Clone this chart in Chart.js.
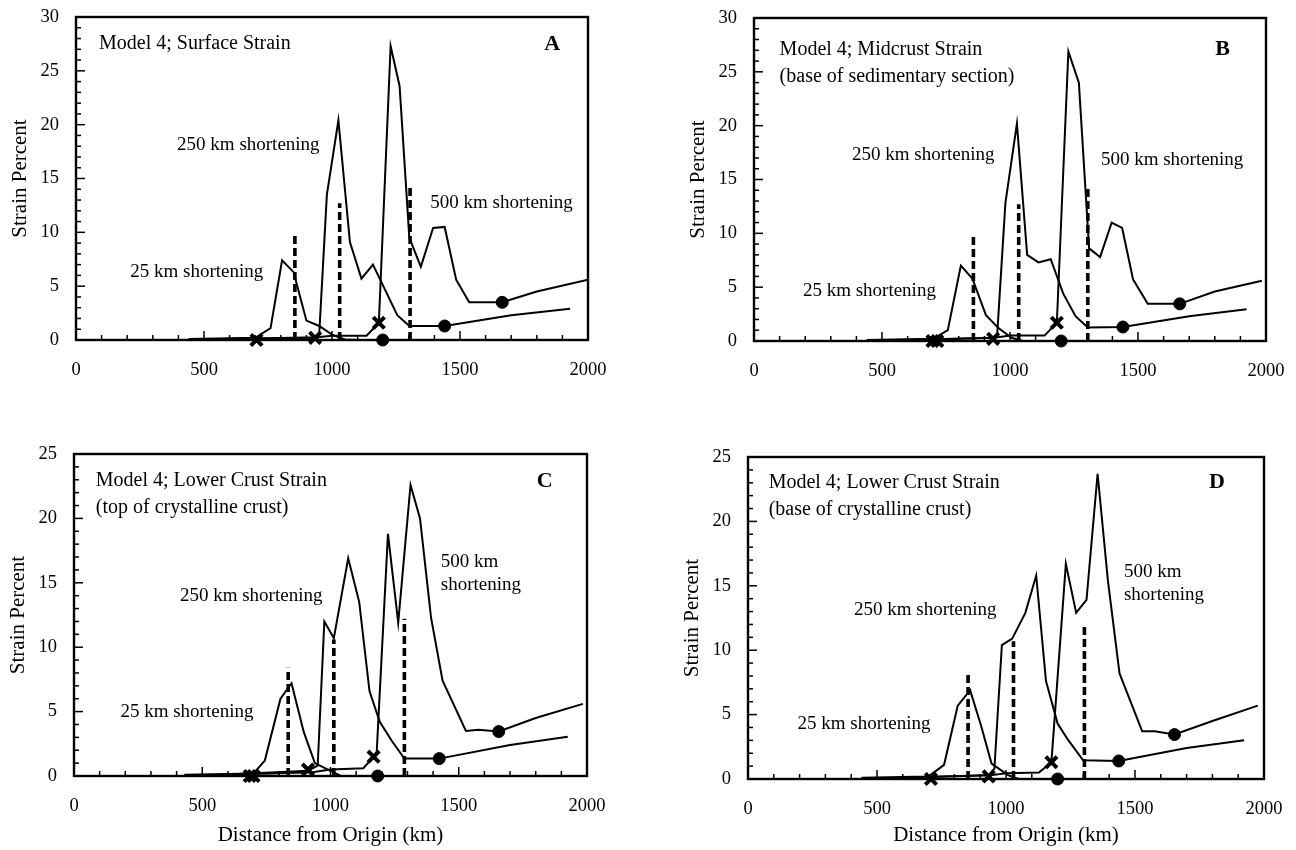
<!DOCTYPE html>
<html>
<head>
<meta charset="utf-8">
<script src="https://cdn.jsdelivr.net/npm/chart.js@4.4.1/dist/chart.umd.min.js"></script>
<style>
  body { margin: 0; background: #fff; width: 1296px; height: 850px; position: relative; overflow: hidden; }
  canvas { position: absolute; }
</style>
</head>
<body>
<canvas id="cA" width="620" height="420" style="left:0;top:0"></canvas>
<canvas id="cB" width="618" height="420" style="left:678px;top:0"></canvas>
<canvas id="cC" width="620" height="430" style="left:0;top:420px"></canvas>
<canvas id="cD" width="624" height="430" style="left:672px;top:420px"></canvas>
<script>
// tick values
const xTickVals = [0, 500, 1000, 1500, 2000];
const yTickVals30 = [0, 5, 10, 15, 20, 25, 30];
const yTickVals25 = [0, 5, 10, 15, 20, 25];

// Panel A - surface strain
const a25 = [[440,0.1],[700,0.2],[760,1.1],[805,7.4],[850,6.3],[900,1.8],[950,1.3],[1000,0.5],[1050,0.05],[1100,0],[1960,0]];
const a250 = [[580,0.1],[930,0.2],[950,0.5],[980,13.5],[1025,20.4],[1070,9.1],[1115,5.7],[1160,7.0],[1255,2.3],[1302,1.3],[1440,1.3],[1700,2.3],[1930,2.9]];
const a500 = [[700,0.15],[940,0.25],[1000,0.4],[1135,0.4],[1183,1.6],[1229,27.3],[1264,23.6],[1302,9.5],[1347,6.8],[1395,10.4],[1440,10.5],[1485,5.6],[1536,3.5],[1665,3.5],[1800,4.5],[2000,5.6]];
const aDashX = [855, 1030, 1305];
const aDashTop = [9.8, 12.7, 14.4];
const aCross = [[705,0],[934,0.2],[1183,1.6]];
const aDot = [[1198,0],[1440,1.3],[1665,3.5]];

// Panel B - midcrust strain
const b25 = [[440,0.1],[700,0.2],[757,1.0],[808,7.0],[853,5.8],[906,2.4],[955,1.2],[1006,0.3],[1050,0],[1960,0]];
const b250 = [[580,0.1],[934,0.3],[950,0.6],[982,12.8],[1027,20.2],[1067,8.0],[1111,7.3],[1159,7.6],[1208,4.4],[1256,2.3],[1304,1.25],[1441,1.3],[1700,2.3],[1924,2.95]];
const b500 = [[700,0.15],[940,0.3],[1000,0.5],[1135,0.5],[1183,1.7],[1228,26.9],[1269,24.0],[1309,8.6],[1352,7.8],[1397,11.0],[1438,10.5],[1481,5.7],[1538,3.45],[1663,3.45],[1800,4.6],[1984,5.6]];
const bDashX = [857, 1034, 1304];
const bDashTop = [9.9, 12.7, 14.5];
const bCross = [[697,0],[716,0],[934,0.2],[1183,1.7]];
const bDot = [[1200,0],[1441,1.3],[1663,3.45]];

// Panel C - lower crust, top of crystalline crust
const c25 = [[430,0.1],[700,0.2],[744,1.2],[805,6.0],[848,7.2],[896,3.4],[939,1.0],[1000,0.4],[1040,0],[1950,0]];
const c250 = [[580,0.1],[912,0.4],[950,0.8],[976,12.0],[1013,10.7],[1069,16.9],[1112,13.5],[1152,6.6],[1192,4.2],[1240,2.7],[1288,1.35],[1424,1.35],[1700,2.4],[1925,3.05]];
const c500 = [[700,0.15],[930,0.3],[1000,0.5],[1128,0.6],[1168,1.5],[1180,1.8],[1224,18.8],[1264,11.9],[1312,22.6],[1349,20.0],[1392,12.3],[1437,7.4],[1528,3.5],[1576,3.6],[1656,3.45],[1800,4.5],[1984,5.6]];
const cDashX = [835, 1013, 1288];
const cDashTop = [8.4, 10.6, 12.2];
const cCross = [[685,0],[700,0],[912,0.5],[1168,1.5]];
const cDot = [[1184,0],[1424,1.35],[1656,3.45]];

// Panel D - lower crust, base of crystalline crust
const d25 = [[440,0.1],[700,0.2],[760,1.1],[813,5.7],[861,6.9],[904,4.1],[944,1.2],[1008,0.3],[1048,0],[1960,0]];
const d250 = [[580,0.1],[933,0.3],[955,0.8],[984,10.4],[1024,10.9],[1075,12.9],[1117,15.8],[1155,7.6],[1200,4.3],[1240,3.05],[1299,1.45],[1437,1.4],[1700,2.4],[1923,3.0]];
const d500 = [[700,0.15],[940,0.3],[1000,0.45],[1128,0.5],[1176,1.3],[1232,16.7],[1272,12.9],[1312,13.9],[1355,23.7],[1395,15.4],[1440,8.2],[1528,3.7],[1576,3.7],[1653,3.45],[1800,4.5],[1976,5.7]];
const dDashX = [853, 1029, 1304];
const dDashTop = [8.2, 10.7, 12.1];
const dCross = [[709,0],[933,0.2],[1176,1.3]];
const dDot = [[1200,0],[1437,1.4],[1653,3.45]];

const SERIF = '"Liberation Serif", "Times New Roman", serif';
const pts = arr => arr.map(([x, y]) => ({x, y}));

// inward ticks, frame box and in-plot labels
const framePlugin = {
  id: 'frame',
  afterDatasetsDraw(chart, args, opts) {
    const {ctx, chartArea: a, scales: {x, y}} = chart;
    ctx.save();
    ctx.strokeStyle = '#000';
    ctx.lineWidth = 1.5;
    for (let v = 0; v <= y.max; v++) {
      const py = y.getPixelForValue(v);
      const len = v % 5 === 0 ? 9 : 5;
      ctx.beginPath(); ctx.moveTo(a.left, py); ctx.lineTo(a.left + len, py); ctx.stroke();
    }
    for (let v = 0; v <= 2000; v += 100) {
      const px = x.getPixelForValue(v);
      const len = v % 500 === 0 ? 9 : 5;
      ctx.beginPath(); ctx.moveTo(px, a.bottom); ctx.lineTo(px, a.bottom - len); ctx.stroke();
    }
    ctx.lineWidth = 2.4;
    ctx.strokeRect(a.left, a.top, a.right - a.left, a.bottom - a.top);

    ctx.fillStyle = '#000';
    ctx.textBaseline = 'middle';
    opts.notes.forEach(n => {
      if (n.bold) ctx.font = 'bold 22px ' + SERIF;
      else if (n.head) ctx.font = '20px ' + SERIF;
      else ctx.font = '19px ' + SERIF;
      ctx.textAlign = n.bold ? 'center' : 'left';
      ctx.fillText(n.t, x.getPixelForValue(n.x), y.getPixelForValue(n.y));
    });
    ctx.restore();
  }
};

function makePanel(id, p) {
  const line = data => ({
    data: pts(data), showLine: true, borderColor: '#000', borderWidth: 2,
    pointRadius: 0, fill: false, tension: 0, order: 2
  });
  const datasets = [line(p.s25), line(p.s250), line(p.s500)];
  p.dashX.forEach((dx, i) => {
    datasets.push({
      data: [{x: dx, y: 0}, {x: dx, y: p.dashTop[i]}], showLine: true,
      borderColor: '#000', borderWidth: 3.6, borderDash: [8, 4], pointRadius: 0, order: 3
    });
  });
  datasets.push({
    data: pts(p.cross), showLine: false, pointStyle: 'crossRot', pointRadius: 8,
    borderColor: '#000', pointBorderWidth: 4, clip: false, order: 1
  });
  datasets.push({
    data: pts(p.dot), showLine: false, pointStyle: 'circle', pointRadius: 6,
    backgroundColor: '#000', borderColor: '#000', clip: false, order: 1
  });

  const pad = { top: p.frameTop, right: p.canvasW - p.frameRight, left: 0, bottom: 0 };
  const chart = new Chart(document.getElementById(id), {
    type: 'scatter',
    data: { datasets },
    options: {
      responsive: false,
      animation: false,
      events: [],
      layout: { padding: {...pad} },
      plugins: { legend: { display: false }, tooltip: { enabled: false }, frame: { notes: p.notes } },
      scales: {
        x: {
          type: 'linear', min: 0, max: 2000,
          afterBuildTicks: s => { s.ticks = xTickVals.map(v => ({value: v})); },
          afterFit: s => { s.height = p.xh; },
          // invisible tick marks only push the labels down; the real ticks are drawn inward by the plugin
          grid: { display: false, drawTicks: true, tickLength: 19 },
          border: { display: false },
          ticks: { color: '#000', padding: 0, font: { family: SERIF, size: 18.5 }, maxRotation: 0, callback: v => String(v) },
          title: {
            display: p.xTitle, text: 'Distance from Origin (km)', color: '#000',
            font: { family: SERIF, size: 21 }, padding: { top: 0, bottom: 2 }
          }
        },
        y: {
          type: 'linear', min: 0, max: p.ymax,
          afterBuildTicks: s => { s.ticks = p.yTicks.map(v => ({value: v})); },
          afterFit: s => { s.width = p.yw; },
          grid: { display: false, drawTicks: true, tickLength: 17 },
          border: { display: false },
          ticks: { color: '#000', padding: 0, font: { family: SERIF, size: 18.5 }, callback: v => String(v) },
          title: {
            display: true, text: 'Strain Percent', color: '#000',
            font: { family: SERIF, size: 21 }, padding: { top: p.titlePad, bottom: 0 }
          }
        }
      }
    },
    plugins: [framePlugin]
  });

  // nudge the layout padding until the plot frame sits where the figure has it
  for (let k = 0; k < 3; k++) {
    const ca = chart.chartArea;
    pad.top += p.frameTop - ca.top;
    pad.right += ca.right - p.frameRight;
    chart.options.layout.padding = {...pad};
    chart.update();
  }
}

makePanel('cA', {
  s25: a25, s250: a250, s500: a500, dashX: aDashX, dashTop: aDashTop, cross: aCross, dot: aDot,
  ymax: 30, yTicks: yTickVals30, yw: 76, xh: 80, titlePad: 8, xTitle: false,
  canvasW: 620, frameTop: 17, frameRight: 588,
  notes: [
    {t: 'Model 4; Surface Strain', x: 90, y: 27.5, head: true},
    {t: 'A', x: 1860, y: 27.5, bold: true},
    {t: '250 km shortening', x: 395, y: 18.1},
    {t: '500 km shortening', x: 1384, y: 12.7},
    {t: '25 km shortening', x: 212, y: 6.3}
  ]
});

makePanel('cB', {
  s25: b25, s250: b250, s500: b500, dashX: bDashX, dashTop: bDashTop, cross: bCross, dot: bDot,
  ymax: 30, yTicks: yTickVals30, yw: 76, xh: 79, titlePad: 8, xTitle: false,
  canvasW: 618, frameTop: 18, frameRight: 1266 - 678,
  notes: [
    {t: 'Model 4; Midcrust Strain', x: 100, y: 27.05, head: true},
    {t: '(base of sedimentary section)', x: 100, y: 24.5, head: true},
    {t: 'B', x: 1830, y: 27.05, bold: true},
    {t: '250 km shortening', x: 383, y: 17.3},
    {t: '500 km shortening', x: 1355, y: 16.8},
    {t: '25 km shortening', x: 191, y: 4.65}
  ]
});

makePanel('cC', {
  s25: c25, s250: c250, s500: c500, dashX: cDashX, dashTop: cDashTop, cross: cCross, dot: cDot,
  ymax: 25, yTicks: yTickVals25, yw: 74, xh: 74, titlePad: 6, xTitle: true,
  canvasW: 620, frameTop: 34, frameRight: 587,
  notes: [
    {t: 'Model 4; Lower Crust Strain', x: 85, y: 22.9, head: true},
    {t: '(top of crystalline crust)', x: 85, y: 20.8, head: true},
    {t: 'C', x: 1835, y: 22.9, bold: true},
    {t: '250 km shortening', x: 413, y: 14.0},
    {t: '500 km', x: 1430, y: 16.6},
    {t: 'shortening', x: 1430, y: 14.8},
    {t: '25 km shortening', x: 181, y: 5.0}
  ]
});

makePanel('cD', {
  s25: d25, s250: d250, s500: d500, dashX: dDashX, dashTop: dDashTop, cross: dCross, dot: dDot,
  ymax: 25, yTicks: yTickVals25, yw: 76, xh: 71, titlePad: 8, xTitle: true,
  canvasW: 624, frameTop: 37, frameRight: 1264 - 672,
  notes: [
    {t: 'Model 4; Lower Crust Strain', x: 80, y: 23.0, head: true},
    {t: '(base of crystalline crust)', x: 80, y: 20.9, head: true},
    {t: 'D', x: 1818, y: 23.0, bold: true},
    {t: '250 km shortening', x: 411, y: 13.1},
    {t: '500 km', x: 1457, y: 16.1},
    {t: 'shortening', x: 1457, y: 14.3},
    {t: '25 km shortening', x: 192, y: 4.3}
  ]
});
</script>
</body>
</html>
